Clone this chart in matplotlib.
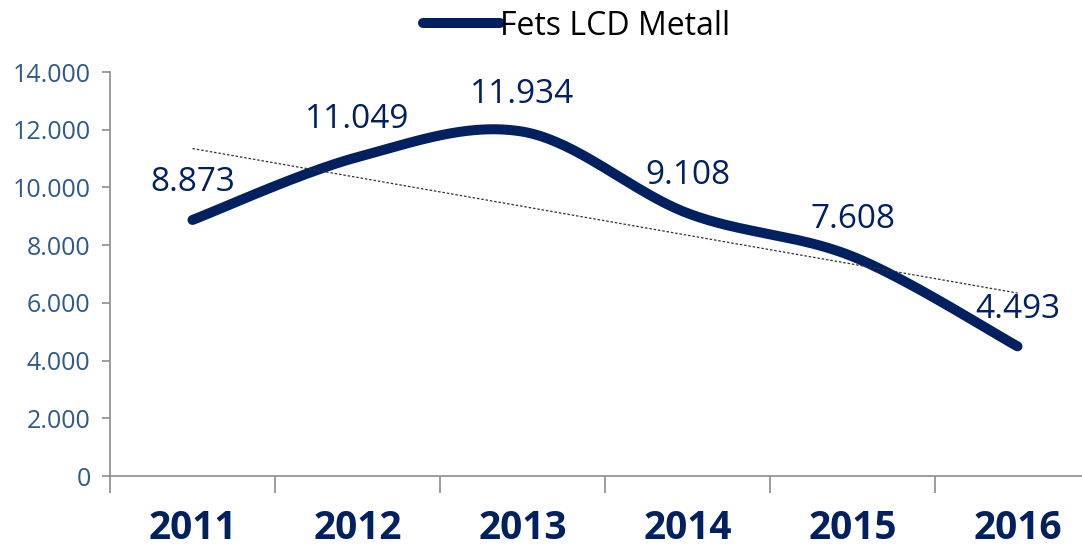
import numpy as np
import matplotlib
matplotlib.use("Agg")
import matplotlib.pyplot as plt
from matplotlib.ticker import FuncFormatter

years = ["2011", "2012", "2013", "2014", "2015", "2016"]
values = [8873, 11049, 11934, 9108, 7608, 4493]
series_name = "Fets LCD Metall"

NAVY = "#002060"
TICK_BLUE = "#2F5A8C"
FONT = "Open Sans"


def smooth_curve(xs, ys, n=40):
    """Cubic Bezier smoothing through every point (Catmull-Rom style)."""
    pts = np.column_stack([xs, ys]).astype(float)
    out = []
    for i in range(len(pts) - 1):
        p0 = pts[i - 1] if i > 0 else pts[i]
        p1 = pts[i]
        p2 = pts[i + 1]
        p3 = pts[i + 2] if i + 2 < len(pts) else pts[i + 1]
        c1 = p1 + (p2 - p0) / 6.0
        c2 = p2 - (p3 - p1) / 6.0
        t = np.linspace(0, 1, n)[:, None]
        seg = ((1 - t) ** 3) * p1 + 3 * ((1 - t) ** 2) * t * c1 + 3 * (1 - t) * t ** 2 * c2 + t ** 3 * p2
        out.append(seg if i == 0 else seg[1:])
    seg = np.vstack(out)
    return seg[:, 0], seg[:, 1]


x = np.arange(1, len(values) + 1)
y = np.array(values, dtype=float)

fig = plt.figure(figsize=(10.82, 5.49), dpi=100)
W, H = 1082, 549
left, right, top, bottom = 110, 1100, 72, 476
ax = fig.add_axes([left / W, 1 - bottom / H, (right - left) / W, (bottom - top) / H])

sx, sy = smooth_curve(x, y)
ax.plot(sx, sy, color=NAVY, lw=7.2, solid_capstyle="round", solid_joinstyle="round",
        label=series_name, zorder=3)

# linear trend
slope, intercept = np.polyfit(x, y, 1)
ax.plot(x, slope * x + intercept, color="#333333", lw=0.9, ls=(0, (2, 1.5)), zorder=4)

for xi, yi in zip(x, y):
    ax.annotate(f"{yi / 1000:.3f}", (xi, yi), xytext=(0, 15), textcoords="offset points",
                ha="center", va="bottom", fontsize=24, color=NAVY, family=FONT)

ax.set_xlim(0.5, 6.5)
ax.set_ylim(0, 14000)
ax.set_yticks(np.arange(0, 14001, 2000))
ax.yaxis.set_major_formatter(FuncFormatter(lambda v, p: "0" if v == 0 else f"{v / 1000:.3f}"))
ax.set_xticks(x)
ax.set_xticklabels(years)
ax.set_xticks(np.arange(0.5, 6.6, 1), minor=True)

for s in ["top", "right"]:
    ax.spines[s].set_visible(False)
for s in ["left", "bottom"]:
    ax.spines[s].set_color("#8C8C8C")
    ax.spines[s].set_linewidth(1.2)

ax.tick_params(axis="y", direction="out", length=6, width=1.2, color="#8C8C8C",
               labelsize=18, labelcolor=TICK_BLUE, pad=8)
ax.tick_params(axis="x", which="major", length=0, pad=24, labelsize=28, labelcolor=NAVY)
ax.tick_params(axis="x", which="minor", direction="out", length=12, width=1.2, color="#8C8C8C")
for lab in ax.get_yticklabels():
    lab.set_family(FONT)
for lab in ax.get_xticklabels():
    lab.set_family(FONT)
    lab.set_fontweight("bold")

leg = fig.legend(loc="upper center", bbox_to_anchor=(0.533, 1.035), frameon=False,
                 prop={"family": FONT, "size": 23}, handlelength=2.4, handletextpad=0.0)

fig.savefig("out.png", dpi=100)
